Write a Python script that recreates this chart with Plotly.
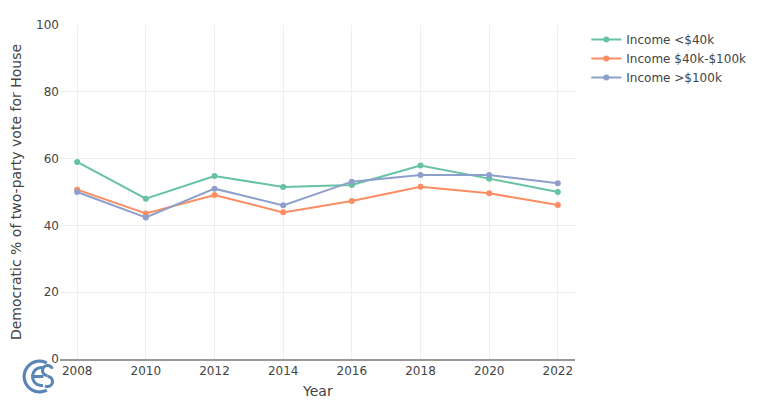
import numpy as np
import plotly.graph_objects as go

years = [2008, 2010, 2012, 2014, 2016, 2018, 2020, 2022]
income_low = [59.0, 48.0, 54.8, 51.5, 52.1, 57.9, 54.0, 50.0]
income_mid = [50.7, 43.6, 49.1, 43.9, 47.3, 51.6, 49.6, 46.1]
income_high = [50.0, 42.4, 51.0, 46.0, 53.1, 55.1, 55.1, 52.6]
series_names = ["Income <$40k", "Income $40k-$100k", "Income >$100k"]
colors = ["#66c2a5", "#fc8d62", "#8da0cb"]
x_title = "Year"
y_title = "Democratic % of two-party vote for House"

OFF = 8  # page body margin
W, H = 754, 392
ML, MR, MT, MB = 52, 186, 17, 41
PW, PH = W - ML - MR, H - MT - MB


def px2paper(px, py):
    # px, py are page coordinates
    fx, fy = px - OFF, py - OFF
    return (fx - ML) / PW, (H - MB - fy) / PH


def ring_path(cx, cy, r_out, r_in, a0, a1, n=40):
    angs = np.linspace(np.radians(a0), np.radians(a1), n)
    pts = [(cx + r_out * np.cos(a), cy - r_out * np.sin(a)) for a in angs]
    pts += [(cx + r_in * np.cos(a), cy - r_in * np.sin(a)) for a in angs[::-1]]
    pp = [px2paper(x, y) for x, y in pts]
    return "M " + " L ".join(f"{x:.5f},{y:.5f}" for x, y in pp) + " Z"


def rect_path(x0, y0, x1, y1):
    pts = [(x0, y0), (x1, y0), (x1, y1), (x0, y1)]
    pp = [px2paper(x, y) for x, y in pts]
    return "M " + " L ".join(f"{x:.5f},{y:.5f}" for x, y in pp) + " Z"


fig = go.Figure()
for name, vals, c in zip(series_names, [income_low, income_mid, income_high], colors):
    fig.add_trace(go.Scatter(x=years, y=vals, mode="lines+markers", name=name,
                             line=dict(color=c, width=2), marker=dict(color=c, size=6)))

logo_color = "#5a86b5"
cx, cy = 39.5, 376.5
logo_paths = [
    ring_path(cx, cy, 17, 13.8, 62, 298),          # outer C
    ring_path(cx + 2, cy, 10.5, 7.5, 80, 280),     # E arc
    rect_path(cx - 6, cy - 1.5, cx + 4, cy + 1.5),  # E bar
    ring_path(cx + 8, cy - 6, 6.5, 3.5, 20, 270),  # S upper
    ring_path(cx + 8, cy + 5, 6.5, 3.5, -120, 90),  # S lower
]
shapes = [dict(type="path", path=p, xref="paper", yref="paper", fillcolor=logo_color,
               line=dict(width=0), layer="above") for p in logo_paths]

tx, ty = px2paper(318, 391)

fig.update_layout(
    width=W, height=H,
    margin=dict(l=ML, r=MR, t=MT, b=MB),
    paper_bgcolor="white", plot_bgcolor="white",
    font=dict(family="DejaVu Sans, Verdana, sans-serif", color="#444", size=12),
    legend=dict(x=1.02, y=1, xanchor="left", yanchor="top", font=dict(size=12)),
    shapes=shapes,
    annotations=[dict(text=x_title, x=tx, y=ty, xref="paper", yref="paper", xanchor="center",
                      yanchor="middle", showarrow=False, font=dict(size=14, color="#444"))],
)
fig.update_xaxes(range=[2007.5, 2022.5], tickvals=years, automargin=False,
                 showgrid=True, gridcolor="#eeeeee", showline=True, linecolor="#999999", linewidth=2,
                 zeroline=False, ticks="")
fig.update_yaxes(title_text=y_title, range=[0, 100], automargin=False,
                 tickvals=[0, 20, 40, 60, 80, 100], showgrid=True, gridcolor="#eeeeee",
                 zeroline=False, showline=False, title_font=dict(size=14))

fig.write_html("out.html")
